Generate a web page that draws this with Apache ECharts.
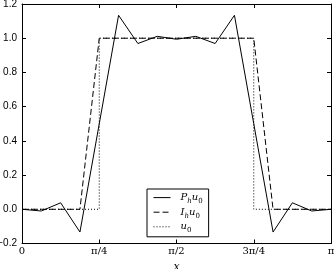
<!DOCTYPE html>
<html><head><meta charset="utf-8">
<script src="https://cdn.jsdelivr.net/npm/echarts@6/dist/echarts.min.js"></script>
<style>html,body{margin:0;padding:0;background:#fff}#c{width:335px;height:269px}</style>
</head><body><div id="c"></div>
<script>
// x positions in units of pi (mesh nodes at multiples of pi/16)
const xNodes = [0, 0.0625, 0.125, 0.1875, 0.25, 0.3125, 0.375, 0.4375, 0.5, 0.5625, 0.625, 0.6875, 0.75, 0.8125, 0.875, 0.9375, 1];
const projVals = [0, -0.01, 0.038, -0.133, 0.5, 1.134, 0.969, 1.011, 0.994, 1.011, 0.969, 1.134, 0.5, -0.133, 0.038, -0.01, 0];
const interpVals = [0, 0, 0, 0, 1, 1, 1, 1, 1, 1, 1, 1, 1, 0, 0, 0, 0];
const exactX = [0, 0.25, 0.25, 0.75, 0.75, 1];
const exactVals = [0, 0, 1, 1, 0, 0];
const xTickLabels = ['0', 'π/4', 'π/2', '3π/4', 'π'];
const seriesNames = ['Phu0', 'Ihu0', 'u0'];

const zip = (xs, ys) => xs.map((x, i) => [x, ys[i]]);
const legendText = {
  'Phu0': '{m|P}{s|h}{m|u}{z|0}',
  'Ihu0': '{m|I}{s|h}{m|u}{z|0}',
  'u0': '{m|u}{z|0}'
};
const serif = "'DejaVu Serif', 'Liberation Serif', serif";
const axisCommonX = {
  type: 'value', min: 0, max: 1, interval: 0.25,
  axisLine: {show: true, onZero: false, lineStyle: {color: '#000', width: 1}},
  axisTick: {show: true, inside: true, length: 4, lineStyle: {color: '#000'}},
  splitLine: {show: false}
};
const axisCommonY = {
  type: 'value', min: -0.2, max: 1.2, interval: 0.2,
  axisLine: {show: true, onZero: false, lineStyle: {color: '#000', width: 1}},
  axisTick: {show: true, inside: true, length: 4, lineStyle: {color: '#000'}},
  splitLine: {show: false}
};
const chart = echarts.init(document.getElementById('c'), null, {renderer: 'canvas'});
chart.setOption({
  animation: false,
  backgroundColor: '#fff',
  grid: {left: 22, right: 4, top: 4, bottom: 25.5, containLabel: false, outerBoundsMode: 'none'},
  xAxis: [
    Object.assign({}, axisCommonX, {
      position: 'bottom',
      name: 'x', nameLocation: 'middle', nameGap: 17,
      nameTextStyle: {fontFamily: serif, fontStyle: 'italic', fontSize: 11, color: '#000'},
      axisLabel: {
        margin: 3, color: '#000', fontFamily: serif, fontSize: 10,
        formatter: v => xTickLabels[Math.round(v / 0.25)]
      }
    }),
    Object.assign({}, axisCommonX, {position: 'top', axisLabel: {show: false}})
  ],
  yAxis: [
    Object.assign({}, axisCommonY, {
      position: 'left',
      axisLabel: {
        margin: 5, color: '#000', fontFamily: "'Liberation Sans Narrow', 'Liberation Sans', sans-serif", fontSize: 10,
        formatter: v => { const t = (Math.round(v * 10) / 10).toFixed(1); return t.replace('-', '−'); }
      }
    }),
    Object.assign({}, axisCommonY, {position: 'right', axisLabel: {show: false}})
  ],
  legend: {
    orient: 'vertical', left: 147, top: 189,
    padding: [3, 6, 3, 6], itemGap: 2, itemWidth: 17, itemHeight: 14,
    borderColor: '#000', borderWidth: 1, backgroundColor: '#fff',
    itemStyle: {opacity: 0},
    lineStyle: {width: 1},
    data: seriesNames,
    formatter: name => legendText[name],
    textStyle: {
      color: '#000', padding: [0, 0, 0, 5],
      rich: {
        m: {fontFamily: serif, fontStyle: 'italic', fontSize: 10, lineHeight: 14, verticalAlign: 'middle'},
        s: {fontFamily: serif, fontStyle: 'italic', fontSize: 7, lineHeight: 8, verticalAlign: 'bottom'},
        z: {fontFamily: serif, fontSize: 7, lineHeight: 8, verticalAlign: 'bottom'}
      }
    }
  },
  series: [
    {name: seriesNames[0], type: 'line', data: zip(xNodes, projVals), symbol: 'none',
     lineStyle: {color: '#000', width: 1, type: 'solid'}, itemStyle: {color: '#000'}, z: 3},
    {name: seriesNames[1], type: 'line', data: zip(xNodes, interpVals), symbol: 'none',
     lineStyle: {color: '#000', width: 1, type: [6, 3]}, itemStyle: {color: '#000'}, z: 4},
    {name: seriesNames[2], type: 'line', data: zip(exactX, exactVals), symbol: 'none',
     lineStyle: {color: '#000', width: 1, type: [1, 2]}, itemStyle: {color: '#000'}, z: 5}
  ]
});
</script></body></html>
